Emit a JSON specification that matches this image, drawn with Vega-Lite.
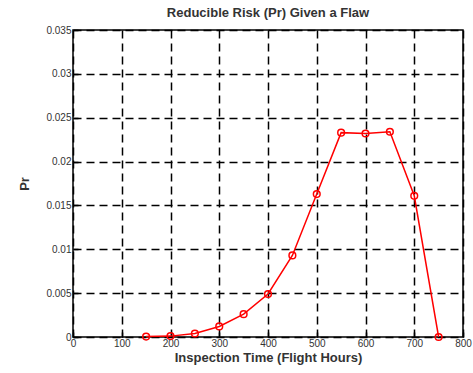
{
  "$schema": "https://vega.github.io/schema/vega-lite/v6.json",
  "autosize": "none",
  "width": 390,
  "height": 307,
  "padding": {"left": 73, "top": 30, "right": 10, "bottom": 36},
  "background": "white",
  "title": {"text": "Reducible Risk (Pr) Given a Flaw", "fontSize": 13, "font": "Liberation Sans", "fontWeight": "bold", "color": "#333", "offset": 5},
  "config": {
    "view": {"stroke": "black", "strokeWidth": 1.5},
    "axis": {
      "domain": false,
      "grid": true,
      "gridColor": "black",
      "gridDash": [8, 5],
      "gridWidth": 1.5,
      "gridOpacity": 1,
      "tickColor": "black",
      "tickSize": -5,
      "tickWidth": 1.5,
      "labelFont": "Liberation Sans",
      "labelFontSize": 10,
      "labelColor": "#333",
      "titleFont": "Liberation Sans",
      "titleFontSize": 13,
      "titleFontWeight": "bold",
      "titleColor": "#333"
    }
  },
  "data": {"values": [
    {"t": 150, "pr": 0.00005},
    {"t": 200, "pr": 0.0001},
    {"t": 250, "pr": 0.0004},
    {"t": 300, "pr": 0.0012},
    {"t": 350, "pr": 0.0026},
    {"t": 400, "pr": 0.0049},
    {"t": 450, "pr": 0.0093},
    {"t": 500, "pr": 0.0163},
    {"t": 550, "pr": 0.0233},
    {"t": 600, "pr": 0.0232},
    {"t": 650, "pr": 0.0234},
    {"t": 700, "pr": 0.0161},
    {"t": 750, "pr": 0.0}
  ]},
  "mark": {"type": "line", "color": "#ff0000", "strokeWidth": 1.5, "point": {"filled": false, "color": "#ff0000", "size": 45, "strokeWidth": 1.5}},
  "encoding": {
    "x": {"field": "t", "type": "quantitative", "scale": {"domain": [0, 800], "nice": false}, "axis": {"values": [0,100,200,300,400,500,600,700,800], "title": "Inspection Time (Flight Hours)", "labelPadding": 6, "titlePadding": 3, "labelFlush": false}},
    "y": {"field": "pr", "type": "quantitative", "scale": {"domain": [0, 0.035], "nice": false}, "axis": {"values": [0,0.005,0.01,0.015,0.02,0.025,0.03,0.035], "format": ".3~f", "title": "Pr", "labelPadding": 7, "titlePadding": 14, "labelFlush": false}}
  }
}
